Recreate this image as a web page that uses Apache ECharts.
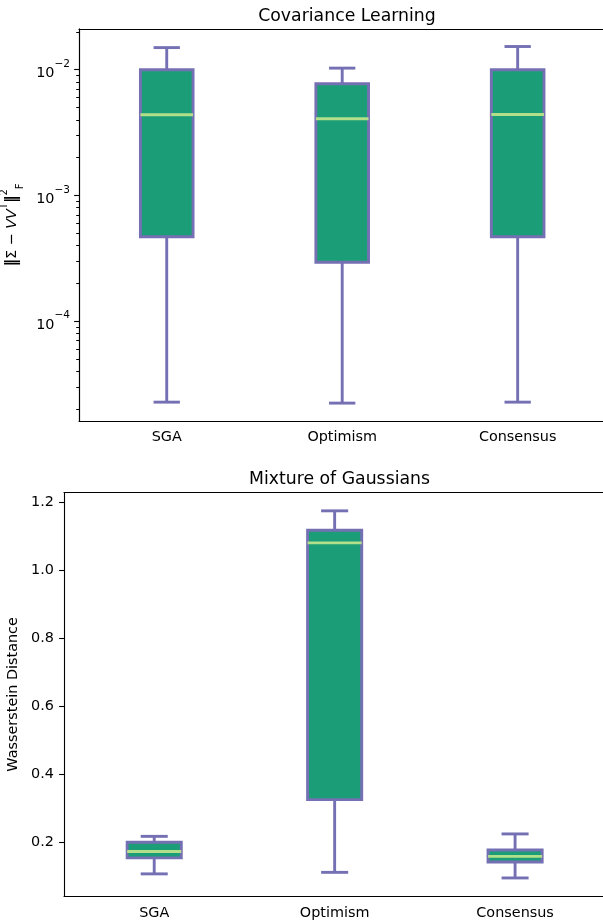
<!DOCTYPE html>
<html>
<head>
<meta charset="utf-8">
<script src="https://cdn.jsdelivr.net/npm/echarts@6/dist/echarts.min.js"></script>
<style>
html,body{margin:0;padding:0;background:#fff;}
#chart{width:603px;height:924px;}
</style>
</head>
<body>
<div id="chart"></div>
<script>
// ---- data ----
const categories = ['SGA', 'Optimism', 'Consensus'];

// Covariance Learning (log scale values)
const covMin    = [2.27e-5, 2.23e-5, 2.27e-5];
const covQ1     = [4.69e-4, 2.94e-4, 4.69e-4];
const covMedian = [4.39e-3, 4.08e-3, 4.40e-3];
const covQ3     = [1.00e-2, 7.74e-3, 1.00e-2];
const covMax    = [1.50e-2, 1.03e-2, 1.53e-2];

// Mixture of Gaussians
const mixMin    = [0.106, 0.1105, 0.094];
const mixQ1     = [0.153, 0.3245, 0.141];
const mixMedian = [0.172, 1.0805, 0.1576];
const mixQ3     = [0.199, 1.1175, 0.1764];
const mixMax    = [0.2165, 1.1747, 0.2236];

// tick labels
const covMajorExp = [-4, -3, -2];
const mixTicks = [0.2, 0.4, 0.6, 0.8, 1.0, 1.2];

// ---- build ----
const FONT = 'DejaVu Sans';
const covLo = -4.794, covHi = -1.676;
const covMinorExp = [];
for (let e = -5; e <= -2; e++) {
  for (let k = 2; k <= 9; k++) {
    const v = e + Math.log10(k);
    if (v >= covLo && v <= covHi) covMinorExp.push(v);
  }
}
const covAllTicks = covMajorExp.concat(covMinorExp).sort((a, b) => a - b);
const lg = Math.log10;
const covRows = categories.map((c, i) => [i, lg(covMin[i]), lg(covQ1[i]), lg(covMedian[i]), lg(covQ3[i]), lg(covMax[i])]);
const mixRows = categories.map((c, i) => [i, mixMin[i], mixQ1[i], mixMedian[i], mixQ3[i], mixMax[i]]);

const EDGE = '#7570b3', FACE = '#1b9e77', MED = '#b2df8a', LW = 2.9;

function renderBox(params, api) {
  const x = api.value(0);
  const band = api.size([1, 0])[0];
  const hw = band * 0.15, cw = band * 0.075;
  const pLo = api.coord([x, api.value(1)]);
  const pQ1 = api.coord([x, api.value(2)]);
  const pMd = api.coord([x, api.value(3)]);
  const pQ3 = api.coord([x, api.value(4)]);
  const pHi = api.coord([x, api.value(5)]);
  const cx = pLo[0];
  const ls = { stroke: EDGE, lineWidth: LW, fill: null };
  return {
    type: 'group',
    children: [
      { type: 'line', shape: { x1: cx, y1: pQ1[1], x2: cx, y2: pLo[1] }, style: ls },
      { type: 'line', shape: { x1: cx, y1: pQ3[1], x2: cx, y2: pHi[1] }, style: ls },
      { type: 'line', shape: { x1: cx - cw, y1: pLo[1], x2: cx + cw, y2: pLo[1] }, style: ls },
      { type: 'line', shape: { x1: cx - cw, y1: pHi[1], x2: cx + cw, y2: pHi[1] }, style: ls },
      { type: 'rect', shape: { x: cx - hw, y: pQ3[1], width: 2 * hw, height: pQ1[1] - pQ3[1] },
        style: { fill: FACE, stroke: EDGE, lineWidth: LW } },
      { type: 'line', shape: { x1: cx - hw, y1: pMd[1], x2: cx + hw, y2: pMd[1] },
        style: { stroke: MED, lineWidth: LW } }
    ]
  };
}

const axisLineStyle = { color: '#000', width: 1.1 };
function xAx(gi, margin) {
  return {
    type: 'category', gridIndex: gi, data: categories, boundaryGap: true, position: 'bottom',
    axisLine: { lineStyle: axisLineStyle },
    axisTick: { alignWithLabel: true, length: 4.9, lineStyle: axisLineStyle },
    axisLabel: { color: '#000', fontFamily: FONT, fontSize: 14.4, margin: margin },
    splitLine: { show: false }
  };
}
function topSpine(gi) {
  return {
    type: 'category', gridIndex: gi, data: categories, position: 'top',
    axisLine: { show: true, lineStyle: axisLineStyle },
    axisTick: { show: false }, axisLabel: { show: false }, splitLine: { show: false }
  };
}

const option = {
  animation: false,
  backgroundColor: '#fff',
  title: [
    { text: 'Covariance Learning', left: 342, top: 3, textAlign: 'center',
      textStyle: { fontFamily: FONT, fontSize: 17.3, fontWeight: 'normal', color: '#000' } },
    { text: 'Mixture of Gaussians', left: 334.5, top: 466, textAlign: 'center',
      textStyle: { fontFamily: FONT, fontSize: 17.3, fontWeight: 'normal', color: '#000' } }
  ],
  grid: [
    { left: 79, right: -2.4, top: 29, bottom: 503, show: false, containLabel: false, outerBoundsMode: 'none' },
    { left: 64, right: -2.3, top: 492.5, bottom: 27.7, show: false, containLabel: false, outerBoundsMode: 'none' },
    { left: 79, right: -2.4, top: 29, bottom: 503, show: false, containLabel: false, outerBoundsMode: 'none' }
  ],
  xAxis: [
    xAx(0, 9), xAx(1, 10), topSpine(0), topSpine(1),
    { type: 'category', gridIndex: 2, data: categories, show: false }
  ],
  yAxis: [
    {
      type: 'value', gridIndex: 0, position: 'left', min: covLo, max: covHi,
      axisLine: { show: true, lineStyle: axisLineStyle },
      axisTick: { show: true, length: 2.8, lineStyle: { color: '#000', width: 1 }, customValues: covAllTicks },
      axisLabel: {
        customValues: covMajorExp, margin: 9, color: '#000',
        formatter: v => '{b|10}{s|−' + Math.round(Math.abs(v)) + '}',
        rich: {
          b: { fontFamily: FONT, fontSize: 14.4, color: '#000', lineHeight: 22, verticalAlign: 'bottom' },
          s: { fontFamily: FONT, fontSize: 10.5, color: '#000', lineHeight: 22, verticalAlign: 'top' }
        }
      },
      splitLine: { show: false },
      name: '{bar|‖}{n|Σ − }{i|VV}{sup|T}{bar|‖}{sup|2}{sub|F}',
      nameLocation: 'middle', nameGap: 52, nameRotate: 90,
      nameTextStyle: {
        rich: {
          bar: { fontFamily: FONT, fontSize: 15, fontWeight: 'bold', color: '#000', lineHeight: 26, verticalAlign: 'middle' },
          n: { fontFamily: FONT, fontSize: 14.4, color: '#000', lineHeight: 26, verticalAlign: 'middle' },
          i: { fontFamily: FONT, fontSize: 14.4, fontStyle: 'italic', color: '#000', lineHeight: 26, verticalAlign: 'middle' },
          sup: { fontFamily: FONT, fontSize: 10, color: '#000', lineHeight: 26, verticalAlign: 'top' },
          sub: { fontFamily: FONT, fontSize: 10, color: '#000', lineHeight: 26, verticalAlign: 'bottom' }
        }
      }
    },
    {
      type: 'value', gridIndex: 2, position: 'left', min: covLo, max: covHi,
      axisLine: { show: true, lineStyle: axisLineStyle },
      axisTick: { show: true, length: 4.9, lineStyle: axisLineStyle, customValues: covMajorExp },
      axisLabel: { show: false },
      splitLine: { show: false }
    },
    {
      type: 'value', gridIndex: 1, position: 'left', min: 0.040, max: 1.2287,
      axisLine: { show: true, lineStyle: axisLineStyle },
      axisTick: { show: true, length: 4.9, lineStyle: axisLineStyle, customValues: mixTicks },
      axisLabel: { customValues: mixTicks, margin: 10, color: '#000', fontFamily: FONT, fontSize: 14.4,
        formatter: v => v.toFixed(1) },
      splitLine: { show: false },
      name: 'Wasserstein Distance', nameLocation: 'middle', nameGap: 40, nameRotate: 90,
      nameTextStyle: { fontFamily: FONT, fontSize: 14.4, color: '#000' }
    }
  ],
  series: [
    { type: 'custom', xAxisIndex: 0, yAxisIndex: 0, data: covRows, renderItem: renderBox,
      encode: { x: 0, y: [1, 2, 3, 4, 5] } },
    { type: 'custom', xAxisIndex: 1, yAxisIndex: 2, data: mixRows, renderItem: renderBox,
      encode: { x: 0, y: [1, 2, 3, 4, 5] } },
    { type: 'custom', xAxisIndex: 4, yAxisIndex: 1, data: [], renderItem: () => null, silent: true }
  ]
};

const chart = echarts.init(document.getElementById('chart'), null, { renderer: 'canvas' });
chart.setOption(option);
</script>
</body>
</html>
